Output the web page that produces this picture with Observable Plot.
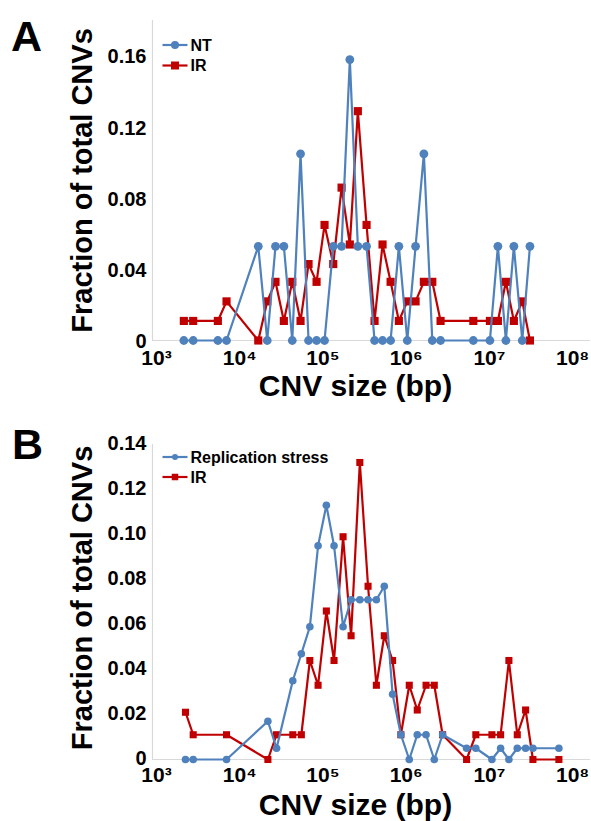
<!DOCTYPE html>
<html><head><meta charset="utf-8">
<script src="https://cdn.jsdelivr.net/npm/d3@7"></script>
<script src="https://cdn.jsdelivr.net/npm/@observablehq/plot@0.6"></script>
<style>
body{margin:0;background:#fff;}
#wrap{position:relative;width:591px;height:821px;overflow:hidden;}
.panel{position:absolute;left:0;}
#overlay{position:absolute;left:0;top:0;pointer-events:none;}
</style></head><body><div id="wrap"></div>
<script>
// ---- data (CNV size in bp, fraction of total CNVs) ----
const xTickValues = [1e3, 1e4, 1e5, 1e6, 1e7, 1e8];
const xTickLabels = ["10³", "10⁴", "10⁵", "10⁶", "10⁷", "10⁸"];

const sizesA = [2130, 2760, 5460, 6940, 16700, 21400, 26900, 33900, 42800, 53800, 67100, 83800,
  104500, 133000, 167400, 210400, 262600, 334200, 417000, 520000, 650000, 817000, 1031000,
  1297000, 1632000, 2060000, 2590000, 6410000, 10140000, 12650000, 15780000, 19680000, 24830000, 30700000];
const ntA = [0, 0, 0, 0, 0.053, 0, 0.053, 0.053, 0, 0.105, 0, 0, 0, 0.053, 0.053, 0.158, 0.053, 0.053,
  0, 0, 0, 0.053, 0, 0.053, 0.105, 0, 0, 0, 0, 0.053, 0, 0.053, 0, 0.053];
const irA = [0.011, 0.011, 0.011, 0.022, 0, 0.022, 0.033, 0.011, 0.033, 0.011, 0.043, 0.033, 0.065, 0.043,
  0.086, 0.054, 0.129, 0.065, 0.011, 0.054, 0.033, 0.011, 0.022, 0.022, 0.033, 0.033, 0.011, 0.011,
  0.011, 0.011, 0.033, 0.011, 0.022, 0];
const yTicksA = [0, 0.04, 0.08, 0.12, 0.16];
const yLabelsA = ["0", "0.04", "0.08", "0.12", "0.16"];

const sizesB = [2230, 2760, 6940, 21800, 27700, 43400, 55000, 69600, 87400, 109900, 135900, 174500,
  217800, 277400, 348300, 438500, 545800, 686700, 863700, 1089000, 1359000, 1733000, 2176000,
  2740000, 5320000, 6870000, 10720000, 13640000, 17150000, 21630000, 27230000, 33340000, 68400000];
const rsB = [0, 0, 0, 0.017, 0.005, 0.035, 0.047, 0.059, 0.095, 0.113, 0.095, 0.059, 0.071, 0.071,
  0.071, 0.071, 0.077, 0.029, 0.011, 0, 0.011, 0.011, 0, 0.011, 0.005, 0.005, 0, 0.005, 0, 0.005,
  0.005, 0.005, 0.005];
const irB = [0.021, 0.011, 0.011, 0, 0.011, 0.011, 0.011, 0.044, 0.033, 0.066, 0.044, 0.099, 0.055,
  0.132, 0.077, 0.033, 0.055, 0.044, 0.011, 0.033, 0.022, 0.033, 0.033, 0.011, 0, 0.011, 0.011,
  0.011, 0.044, 0.011, 0.022, 0, 0];
const yTicksB = [0, 0.02, 0.04, 0.06, 0.08, 0.10, 0.12, 0.14];
const yLabelsB = ["0", "0.02", "0.04", "0.06", "0.08", "0.10", "0.12", "0.14"];

const BLUE = "#4F81BD", RED = "#C00000", AXIS = "#d9d9d9";
const FONT = "'Liberation Sans', Arial, Helvetica, sans-serif";

function rows(xs, ys) { return xs.map((x, i) => ({x, y: ys[i]})); }

function panel(o) {
  const blueRows = rows(o.sizes, o.blue), redRows = rows(o.sizes, o.red);
  const xMin = 895, xMax = 1.64e8;
  return Plot.plot({
    width: 591, height: o.height,
    marginLeft: 152, marginRight: 1, marginTop: o.marginTop, marginBottom: o.marginBottom,
    x: {type: "log", domain: [xMin, xMax], label: null},
    y: {domain: [0, o.yMax], label: null},
    style: {fontFamily: FONT, fontWeight: "bold", fontSize: "20px", color: "#000", background: "transparent", overflow: "visible"},
    marks: [
      Plot.ruleY([0], {stroke: AXIS, strokeWidth: 1.2}),
      Plot.ruleX([xMin], {y1: 0, y2: o.yMax, stroke: AXIS, strokeWidth: 1.2}),
      Plot.axisX({ticks: xTickValues, tickFormat: d => xTickLabels[xTickValues.indexOf(d)],
        tickSize: 0, tickPadding: o.xPad, fontSize: 21, fill: "#000", label: null}),
      Plot.axisY({ticks: o.yTicks, tickFormat: d => o.yLabels[o.yTicks.indexOf(d)],
        tickSize: 0, tickPadding: 6, fontSize: 20, dy: o.yDy, fill: "#000", label: null}),
      Plot.line(redRows, {x: "x", y: "y", stroke: RED, strokeWidth: 2.2}),
      Plot.dot(redRows, {x: "x", y: "y", symbol: "square", fill: RED, r: o.sq}),
      Plot.line(blueRows, {x: "x", y: "y", stroke: BLUE, strokeWidth: 2.2}),
      Plot.dot(blueRows, {x: "x", y: "y", fill: BLUE, r: o.dotR}),
      Plot.text(["Fraction of total CNVs"], {frameAnchor: "left", textAnchor: "middle", lineAnchor: "middle",
        rotate: -90, dx: -70, dy: o.titleDy, fontSize: 29, fill: "#000"}),
      Plot.text(["CNV size (bp)"], {frameAnchor: "bottom", textAnchor: "middle", lineAnchor: "middle",
        dx: -16, dy: o.xTitleDy, fontSize: 30, fill: "#000"})
    ]
  });
}

const wrap = document.getElementById("wrap");
const pa = panel({sizes: sizesA, blue: ntA, red: irA, yMax: 0.18, yTicks: yTicksA, yLabels: yLabelsA,
  height: 400, marginTop: 20, marginBottom: 60, xPad: 10, yDy: 1, dotR: 4.4, sq: 4.6, titleDy: 0, xTitleDy: 46});
pa.classList.add("panel"); pa.style.top = "0px";
wrap.appendChild(pa);
const pb = panel({sizes: sizesB, blue: rsB, red: irB, yMax: 0.14, yTicks: yTicksB, yLabels: yLabelsB,
  height: 421, marginTop: 44, marginBottom: 62, xPad: 8, yDy: -1, dotR: 3.8, sq: 4, titleDy: -4, xTitleDy: 46});
pb.classList.add("panel"); pb.style.top = "400px";
wrap.appendChild(pb);

// overlay: panel letters and legends
const svg = d3.select(wrap).append("svg").attr("id", "overlay").attr("width", 591).attr("height", 821)
  .style("font-family", FONT).style("font-weight", "bold");
svg.append("text").attr("x", 11).attr("y", 51).attr("font-size", 43).text("A");
svg.append("text").attr("x", 12).attr("y", 459).attr("font-size", 43).text("B");

function legend(items, x0, y0, gap, r, sq) {
  items.forEach((it, i) => {
    const y = y0 + i * gap;
    svg.append("line").attr("x1", x0).attr("x2", x0 + 25).attr("y1", y).attr("y2", y)
      .attr("stroke", it.color).attr("stroke-width", 2.2);
    if (it.shape === "circle") svg.append("circle").attr("cx", x0 + 12.5).attr("cy", y).attr("r", r).attr("fill", it.color);
    else svg.append("rect").attr("x", x0 + 12.5 - sq / 2).attr("y", y - sq / 2).attr("width", sq).attr("height", sq).attr("fill", it.color);
    svg.append("text").attr("x", x0 + 28).attr("y", y).attr("dy", "0.36em").attr("font-size", 16).text(it.label);
  });
}
legend([{label: "NT", color: BLUE, shape: "circle"}, {label: "IR", color: RED, shape: "square"}], 162.5, 45, 20.5, 4, 8);
legend([{label: "Replication stress", color: BLUE, shape: "circle"}, {label: "IR", color: RED, shape: "square"}], 162.5, 457, 20, 3, 6.5);
</script>
</body></html>
